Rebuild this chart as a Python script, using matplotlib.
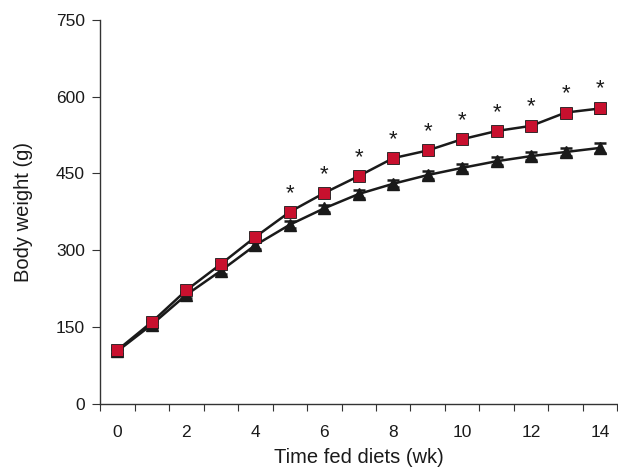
import matplotlib
matplotlib.use("Agg")
import matplotlib.pyplot as plt
import numpy as np

plt.rcParams['font.family'] = ['Liberation Sans', 'DejaVu Sans']

weeks = list(range(15))
red_mean = [105, 160, 222, 273, 326, 375, 412, 445, 480, 495, 517, 533, 543, 569, 577]
red_err = [6, 6, 7, 7, 7, 7, 7, 7, 7, 8, 8, 8, 9, 9, 10]
black_mean = [103, 155, 213, 260, 310, 350, 382, 410, 430, 447, 461, 474, 484, 492, 500]
black_err = [5, 6, 6, 7, 7, 7, 7, 7, 7, 8, 8, 8, 8, 8, 9]
significant = [False]*5 + [True]*10
xtick_labels = ['0', '2', '4', '6', '8', '10', '12', '14']
yticks = [0, 150, 300, 450, 600, 750]

fig = plt.figure(figsize=(6.18, 4.73), dpi=100)
ax = fig.add_axes([0.162, 0.146, 0.837, 0.812])

ax.errorbar(weeks, black_mean, yerr=black_err, color='#1a1a1a', marker='^', markersize=8.5,
            markerfacecolor='#1a1a1a', markeredgecolor='#1a1a1a', linewidth=1.8,
            capsize=4.5, capthick=1.8, elinewidth=1.5, zorder=3)
ax.errorbar(weeks, red_mean, yerr=red_err, color='#1a1a1a', marker='s', markersize=8.5,
            markerfacecolor='#c8102e', markeredgecolor='#1a1a1a', markeredgewidth=0.6,
            linewidth=1.8, capsize=4.5, capthick=1.8, elinewidth=1.5, zorder=4)

for w, m, e, s in zip(weeks, red_mean, red_err, significant):
    if s:
        ax.annotate('*', (w, m + e), xytext=(0, 3), textcoords='offset points',
                    ha='center', va='bottom', fontsize=16, color='#1a1a1a')

ax.set_xlim(-0.5, 14.5)
ax.set_ylim(0, 750)
ax.set_xticks(np.arange(-0.5, 15, 1), minor=False)
ax.set_xticklabels([])
ax.set_xticks(np.arange(0, 15, 2), minor=True)
ax.set_xticklabels(xtick_labels, minor=True)
ax.tick_params(axis='x', which='minor', length=0, pad=15, labelsize=12.5, colors='#1a1a1a')
ax.tick_params(axis='x', which='major', length=5, direction='out', color='#333333')
ax.set_yticks(yticks)
ax.tick_params(axis='y', length=6, direction='out', pad=5, labelsize=12.5, colors='#1a1a1a', color='#333333')

for sp in ['top', 'right']:
    ax.spines[sp].set_visible(False)
for sp in ['left', 'bottom']:
    ax.spines[sp].set_color('#333333')
    ax.spines[sp].set_linewidth(1.0)

ax.set_xlabel('Time fed diets (wk)', fontsize=14.5, color='#1a1a1a', labelpad=6)
ax.set_ylabel('Body weight (g)', fontsize=14.5, color='#1a1a1a', labelpad=16)

fig.savefig('out.png', dpi=100)
